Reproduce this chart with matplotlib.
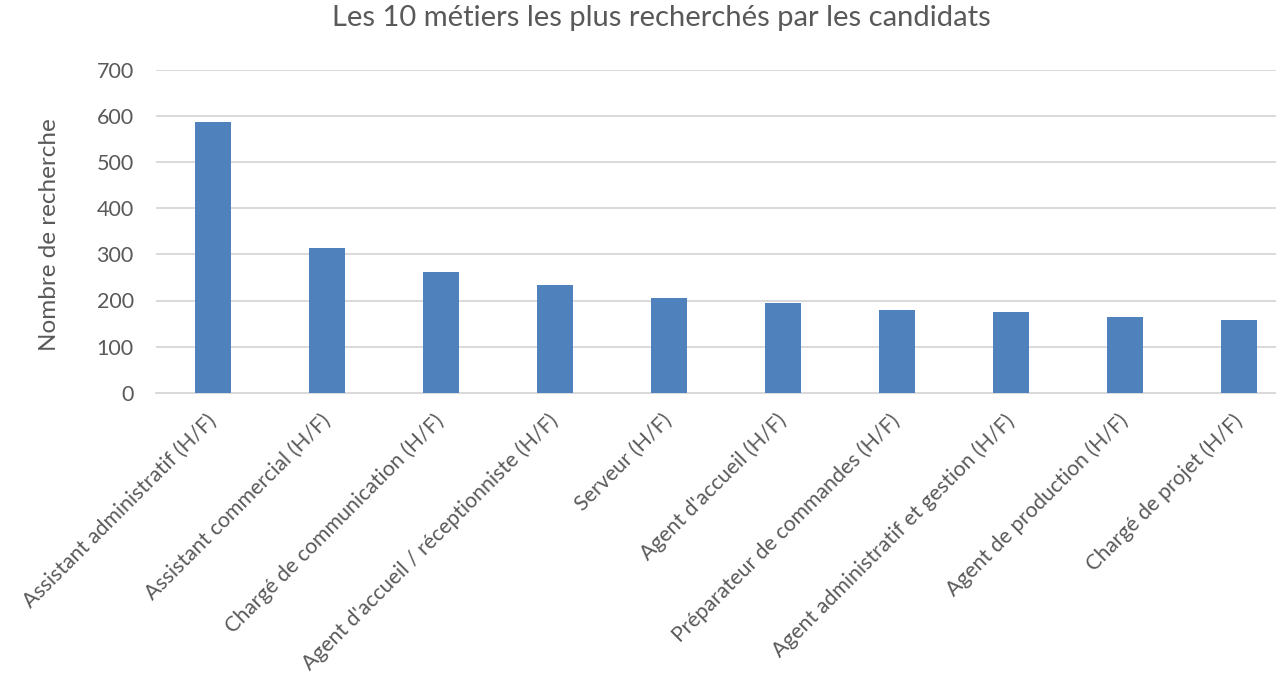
import matplotlib.pyplot as plt
import numpy as np

plt.rcParams['font.family'] = ['Lato', 'DejaVu Sans']

metiers = [
    "Assistant administratif (H/F)",
    "Assistant commercial (H/F)",
    "Chargé de communication (H/F)",
    "Agent d'accueil / réceptionniste (H/F)",
    "Serveur (H/F)",
    "Agent d'accueil (H/F)",
    "Préparateur de commandes (H/F)",
    "Agent administratif et gestion (H/F)",
    "Agent de production (H/F)",
    "Chargé de projet (H/F)",
]
recherches = [587, 313, 261, 233, 205, 195, 179, 174, 164, 157]
yticks = [0, 100, 200, 300, 400, 500, 600, 700]

gris = '#595959'

fig = plt.figure(figsize=(12.76, 6.85), dpi=100)
ax = fig.add_axes([156 / 1276, 1 - 392.7 / 685, 1140 / 1276, 322.7 / 685])

x = np.arange(len(metiers))
ax.bar(x, recherches, width=0.316, color='#4F81BD', zorder=3)

ax.set_xlim(-0.5, len(metiers) - 0.5)
ax.set_ylim(0, 700)
ax.set_yticks(yticks)
ax.yaxis.grid(True, color='#D9D9D9', linewidth=1.4, zorder=0)
for s in ['top', 'right', 'left']:
    ax.spines[s].set_visible(False)
ax.spines['bottom'].set_color('#D9D9D9')
ax.spines['bottom'].set_linewidth(1.4)

ax.tick_params(axis='y', length=0, pad=16, labelsize=15.5, labelcolor=gris)
ax.tick_params(axis='x', length=0, pad=18, labelsize=15.3, labelcolor=gris)
ax.set_xticks(x)
ax.set_xticklabels(metiers, rotation=45, ha='right', va='center', rotation_mode='anchor')

# titre de l'axe y et titre du graphique
fig.text(50 / 1276, 1 - 235 / 685, "Nombre de recherche", rotation=90,
         ha='center', va='center', fontsize=17.5, color=gris)
fig.text(661 / 1276, 1 - 18 / 685, "Les 10 métiers les plus recherchés par les candidats",
         ha='center', va='center', fontsize=21, color=gris)

fig.savefig('out.png', dpi=100)
